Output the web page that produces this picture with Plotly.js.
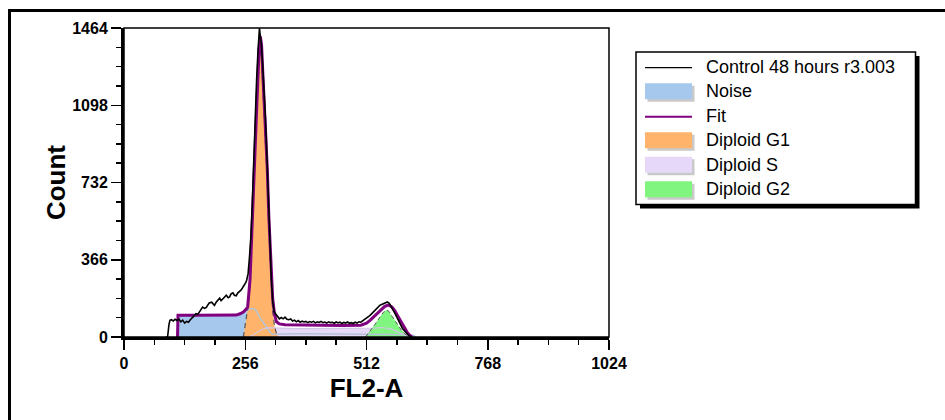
<!DOCTYPE html>
<html><head><meta charset="utf-8">
<script src="https://cdn.plot.ly/plotly-3.0.1.min.js"></script>
<style>
html,body{margin:0;padding:0;background:#fff;overflow:hidden}
#chart{width:945px;height:420px;position:relative}
#frame{position:absolute;left:8px;top:9px;width:1000px;height:500px;border:3px solid #000;pointer-events:none}
</style></head><body>
<div id="chart"></div><div id="frame"></div>
<script>
// ---- data (FL2-A channel, count) ----
const dataX = [88,92,95,97,100,104,108,112,116,120,124,128,132,136,140,144,148,152,156,159,162,166,170,174,177,180,185,188,191,195,198,202,205,208,212,216,220,223,226,230,233,237,240,244,247,250,254,257,259,262,265,268,271,274,277,280,283,286,288,290,293,296,299,302,305,308,311,314,317,320,324,328,332,336,340,344,348,352,356,360,364,368,372,376,380,384,388,392,396,400,404,408,412,416,420,424,428,432,436,440,444,448,452,456,460,464,468,472,476,480,484,488,492,496,500,504,508,512,516,520,524,528,532,536,540,544,548,552,556,560,564,568,572,576,580,584,588,592,596,600,604,608];
const dataY = [0,0,60,79,82,76,84,78,85,72,80,66,74,70,82,90,100,111,108,118,126,142,136,140,152,161,165,156,150,166,176,184,172,178,190,198,186,190,204,209,198,195,208,215,222,232,245,258,269,300,380,480,640,860,1060,1220,1360,1464,1420,1390,1280,1160,1020,840,640,440,280,170,120,110,96,86,92,86,94,84,82,86,76,80,72,78,70,75,71,74,68,73,70,74,67,72,69,74,68,71,66,72,68,70,65,71,67,70,64,69,66,71,65,68,64,70,66,72,70,76,80,88,96,104,114,124,135,142,150,154,158,160,166,160,146,128,112,94,74,56,40,30,18,10,4,0];

const fitX = [113,114,150,200,237,245,252,258,261,266,271,274.5,278,281.5,285,288,290.5,293.5,298,302.5,306,310,314,318,322,328,340,380,420,460,500,512,520,528,536,544,550,556,560,566,572,578,585,592,598,603,608];
const fitY = [0,103,103,103,104,110,118,132,142,269,554,791,1028,1219,1361,1424,1380,1230,1040,800,560,330,180,105,72,62,58,57,55,55,56,66,80,98,117,134,144,150,150,142,124,100,70,42,22,8,0];

const noiseX = [113,114,140,180,220,237,245,252,259,266,272,279,286,293,300,307,314,330,380,450,520,580,610,616];
const noiseY = [0,102,102,102,103,105,110,118,127,133,135,125,95,70,47,26,12,14,15,15,14,12,8,0];

const g1X = [252,255,259,263,267,271,275,279,283,287,290,294,298,302,306,310,314,318,322,326];
const g1Y = [0,50,105,160,280,500,780,1030,1230,1360,1330,1150,980,760,500,270,120,50,15,0];

const sX = [265,272,280,288,296,305,315,330,360,400,450,500,530,546,560,572,584,596,606];
const sY = [0,8,20,32,40,44,43,41,40,40,40,40,42,45,40,30,18,6,0];

const g2X = [510,518,524,530,536,542,548,554,560,566,572,578,584,590,596,603];
const g2Y = [0,22,42,60,80,100,118,128,120,98,76,56,38,22,9,0];

const legendNames = ['Control 48 hours r3.003','Noise','Fit','Diploid G1','Diploid S','Diploid G2'];
const xTitle = 'FL2-A';
const yTitle = 'Count';

// ---- styles ----
const C = {data:'#000000', noise:'#a6c8ec', noiseLine:'#b4c3d6', fit:'#800080', g1:'#ffb36b', s:'#e6d8f8', sLine:'#d2c8e4', g2:'#80f580', dash:'#555555'};
const FONT = 'Liberation Sans, Arial, sans-serif';

const fillTrace = (x,y,col) => ({x:x,y:y,type:'scatter',mode:'lines',fill:'tozeroy',fillcolor:col,line:{width:0,color:col},hoverinfo:'skip',showlegend:false});
const lineTrace = (x,y,col,w,dash) => ({x:x,y:y,type:'scatter',mode:'lines',line:{width:w,color:col,dash:dash||'solid'},hoverinfo:'skip',showlegend:false});

const traces = [
  fillTrace(noiseX,noiseY,C.noise),
  fillTrace(sX,sY,C.s),
  fillTrace(g1X,g1Y,C.g1),
  fillTrace(g2X,g2Y,C.g2),
  lineTrace(noiseX,noiseY,C.noiseLine,1.5),
  lineTrace(sX,sY,C.sLine,1.2),
  lineTrace(g1X,g1Y,C.dash,1.2,'5px,4px'),
  lineTrace(g2X,g2Y,C.dash,1,'4px,3px'),
  lineTrace(fitX,fitY,C.fit,3),
  lineTrace(dataX,dataY,C.data,1.6)
];

// ---- layout geometry ----
const W=945,H=420,ML=124,MR=336,MT=28,MB=83;
const PW=W-ML-MR, PH=H-MT-MB;
const px = v => (v-ML)/PW;
const py = v => 1-(v-MT)/PH;

const shapes = [
  {type:'rect',xref:'paper',yref:'paper',x0:0,x1:1,y0:0,y1:1,line:{color:'#000',width:1.5},layer:'above'}
];
const annotations = [];
// legend box with drop shadow
shapes.push({type:'rect',xref:'paper',yref:'paper',x0:px(640),x1:px(919.5),y0:py(56),y1:py(208.5),fillcolor:'#000',line:{width:0},layer:'above'});
shapes.push({type:'rect',xref:'paper',yref:'paper',x0:px(636),x1:px(915.5),y0:py(52),y1:py(204.5),fillcolor:'#fff',line:{color:'#000',width:1.5},layer:'above'});
const rows = [66.7,91.2,115.7,140.2,164.7,189.2];
const legendKinds = [['line',C.data,1.3],['box',C.noise],['line',C.fit,2],['box',C.g1],['box',C.s],['box',C.g2]];
legendNames.forEach((name,i)=>{
  const r = rows[i], k = legendKinds[i];
  if(k[0]==='line'){
    shapes.push({type:'line',xref:'paper',yref:'paper',x0:px(645),x1:px(692),y0:py(r+1),y1:py(r+1),line:{color:k[1],width:k[2]},layer:'above'});
  } else {
    shapes.push({type:'rect',xref:'paper',yref:'paper',x0:px(647.5),x1:px(694.5),y0:py(r-5.5),y1:py(r+10.5),fillcolor:'#c9c9c9',line:{width:0},layer:'above'});
    shapes.push({type:'rect',xref:'paper',yref:'paper',x0:px(645),x1:px(692),y0:py(r-8),y1:py(r+8),fillcolor:k[1],line:{width:0},layer:'above'});
  }
  annotations.push({xref:'paper',yref:'paper',x:px(704),y:py(r),xanchor:'left',yanchor:'middle',text:name,showarrow:false,font:{family:FONT,size:18,color:'#000'}});
});

const tickFont = {family:FONT,size:16,color:'#000',weight:'bold'};
const titleFont = {family:FONT,size:26,color:'#000',weight:'bold'};

const layout = {
  width:W,height:H,margin:{l:ML,r:MR,t:MT,b:MB,pad:0},
  paper_bgcolor:'#fff',plot_bgcolor:'#fff',showlegend:false,hovermode:false,
  xaxis:{range:[0,1024],tickmode:'linear',tick0:0,dtick:256,ticks:'outside',ticklen:10,tickwidth:1.5,tickcolor:'#000',
    showline:true,linewidth:3,linecolor:'#000',showgrid:false,zeroline:false,tickfont:tickFont,
    minor:{tickmode:'linear',tick0:0,dtick:64,ticks:'outside',ticklen:5,tickwidth:1.5,tickcolor:'#000',showgrid:false},
    title:{text:xTitle,font:titleFont,standoff:8},fixedrange:true},
  yaxis:{range:[0,1464],tickmode:'linear',tick0:0,dtick:366,ticks:'outside',ticklen:10,tickwidth:1.5,tickcolor:'#000',
    showline:true,linewidth:3,linecolor:'#000',showgrid:false,zeroline:false,tickfont:tickFont,
    minor:{tickmode:'linear',tick0:0,dtick:91.5,ticks:'outside',ticklen:5,tickwidth:1.5,tickcolor:'#000',showgrid:false},
    title:{text:yTitle,font:titleFont,standoff:0},fixedrange:true},
  shapes:shapes,annotations:annotations
};
Plotly.newPlot('chart',traces,layout,{staticPlot:true,displayModeBar:false});
</script>
</body></html>
